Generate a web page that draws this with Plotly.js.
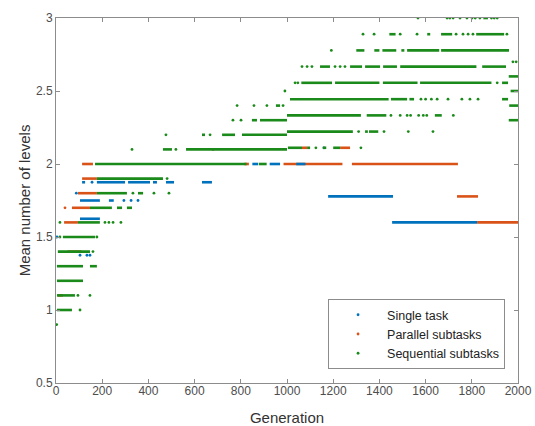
<!DOCTYPE html>
<html>
<head>
<meta charset="utf-8">
<script src="https://cdn.plot.ly/plotly-3.0.1.min.js"></script>
<style>html,body{margin:0;padding:0;background:#fff;}#chart{width:535px;height:426px;}</style>
</head>
<body>
<div id="chart"></div>
<script>
// ---- Data ----
const seriesNames = ["Single task", "Parallel subtasks", "Sequential subtasks"];

// Sequential subtasks: horizontal runs (level, first generation, last generation)
const seqSegY  = [1.0, 1.1, 1.2, 1.3, 1.3, 1.4, 1.5, 1.6, 1.7, 1.7, 1.7, 1.8, 1.8, 1.9, 2.0, 2.0,
                  2.1, 2.1, 2.2, 2.2, 2.2, 2.3, 2.3, 2.4,
                  2.111, 2.111, 2.111, 2.111,
                  2.222, 2.222, 2.222,
                  2.333, 2.333, 2.333,
                  2.444, 2.444, 2.444, 2.444,
                  2.556, 2.556, 2.556, 2.556, 2.556,
                  2.667, 2.667, 2.667, 2.667, 2.667, 2.667,
                  2.778, 2.778, 2.778, 2.778, 2.778, 2.778,
                  2.889, 2.889, 2.889, 2.889,
                  3.0,
                  2.6, 2.5, 2.4, 2.3];
const seqSegX0 = [4, 4, 4, 4, 147, 8, 30, 95, 147, 264, 307, 177, 355, 177, 169, 878,
                  463, 563, 632, 719, 805, 848, 883, 952,
                  1004, 1087, 1155, 1200,
                  1000, 1338, 1355,
                  1000, 1345, 1640,
                  1013, 1450, 1530, 1931,
                  1062, 1208, 1415, 1576, 1931,
                  1143, 1273, 1338, 1416, 1490, 1845,
                  1300, 1378, 1413, 1495, 1520, 1667,
                  1443, 1607, 1667, 1819,
                  1850,
                  1960, 1968, 1962, 1960];
const seqSegX1 = [69, 82, 117, 117, 177, 147, 169, 190, 242, 286, 329, 307, 377, 463, 825, 912,
                  502, 1000, 645, 775, 1000, 870, 1000, 970,
                  1065, 1100, 1170, 1230,
                  1285, 1350, 1395,
                  1320, 1430, 1670,
                  1440, 1520, 1550, 1957,
                  1195, 1400, 1565, 1885, 1957,
                  1186, 1325, 1403, 1476, 1820, 1948,
                  1335, 1400, 1473, 1508, 1659, 1961,
                  1470, 1620, 1715, 1940,
                  1870,
                  2000, 2000, 2000, 2000];
// Sequential subtasks: isolated points
const seqDotX = [3, 104, 95, 147, 160, 177, 17, 17, 212, 229, 247, 281, 333, 424, 489, 481,
                 329, 519, 476, 667, 766, 801, 784, 857, 913, 983, 991,
                 1125, 1320, 1310, 1420, 1525, 1632,
                 1450, 1490, 1520, 1535, 1570, 1590, 1605, 1720,
                 1580, 1600, 1625, 1650, 1697, 1757, 1792, 1827,
                 1035, 1047, 1910,
                 1065, 1087, 1108, 1208, 1230, 1251,
                 1192,
                 1329, 1377, 1490, 1563, 1732, 1762, 1784, 1805, 1952,
                 1567, 1693, 1705, 1719, 1749, 1779, 1801, 1815, 1835, 1885, 1897, 1910,
                 1978, 1992];
const seqDotY = [0.9, 1.0, 1.1, 1.1, 1.4, 1.5, 1.5, 1.6, 1.6, 1.6, 1.6, 1.6, 1.8, 1.8, 1.8, 1.9,
                 2.1, 2.1, 2.2, 2.2, 2.3, 2.3, 2.4, 2.4, 2.4, 2.4, 2.5,
                 2.111, 2.111, 2.222, 2.222, 2.222, 2.222,
                 2.333, 2.333, 2.333, 2.333, 2.333, 2.333, 2.333, 2.333,
                 2.444, 2.444, 2.444, 2.444, 2.444, 2.444, 2.444, 2.444,
                 2.556, 2.556, 2.556,
                 2.667, 2.667, 2.667, 2.667, 2.667, 2.667,
                 2.778,
                 2.889, 2.889, 2.889, 2.889, 2.889, 2.889, 2.889, 2.889, 2.889,
                 3.0, 3.0, 3.0, 3.0, 3.0, 3.0, 3.0, 3.0, 3.0, 3.0, 3.0, 3.0,
                 2.7, 2.7];

// Single task
const sinSegY  = [1.625, 1.75, 1.75, 1.875, 1.875, 1.875, 1.875, 1.875, 1.875, 2.0, 2.0, 2.0, 1.778, 1.6];
const sinSegX0 = [104, 104, 229, 113, 177, 312, 420, 476, 632, 850, 925, 1040, 1178, 1455];
const sinSegX1 = [190, 190, 250, 126, 299, 407, 437, 511, 675, 875, 970, 1080, 1459, 1823];
const sinDotX = [4, 104, 134, 147, 294, 325, 355, 88, 156, 1160];
const sinDotY = [1.5, 1.375, 1.375, 1.375, 1.75, 1.75, 1.75, 1.8, 1.875, 2.111];

// Parallel subtasks
const parSegY  = [1.1, 1.4, 1.6, 1.7, 1.8, 1.9, 2.0, 2.0, 2.0, 2.0, 2.111, 2.111, 1.778, 1.6];
const parSegX0 = [8, 50, 35, 69, 95, 113, 113, 815, 985, 1281, 1065, 1230, 1736, 1823];
const parSegX1 = [30, 110, 95, 147, 177, 177, 160, 835, 1240, 1740, 1087, 1273, 1827, 2000];
const parDotX = [39, 680];
const parDotY = [1.7, 2.1];

const colors = ["#0072BD", "#D95319", "#1A8A1A"];

// ---- Build traces ----
function segTrace(ys, x0, x1, color) {
  const x = [], y = [];
  for (let i = 0; i < ys.length; i++) {
    x.push(x0[i], x1[i], null);
    y.push(ys[i], ys[i], null);
  }
  return {x: x, y: y, type: "scatter", mode: "lines", showlegend: false, hoverinfo: "skip",
          line: {color: color, width: 2.6}};
}
function dotTrace(xs, ys, color, name, rank) {
  return {x: xs, y: ys, type: "scatter", mode: "markers", name: name, legendrank: rank,
          marker: {color: color, size: 2.8, line: {width: 0}}};
}

const data = [
  segTrace(parSegY, parSegX0, parSegX1, colors[1]),
  dotTrace(parDotX, parDotY, colors[1], seriesNames[1], 2),
  segTrace(sinSegY, sinSegX0, sinSegX1, colors[0]),
  dotTrace(sinDotX, sinDotY, colors[0], seriesNames[0], 1),
  segTrace(seqSegY, seqSegX0, seqSegX1, colors[2]),
  dotTrace(seqDotX, seqDotY, colors[2], seriesNames[2], 3)
];

const FONT = "Liberation Sans, Arial, sans-serif";
const axisCommon = {
  showgrid: false, zeroline: false, showline: true, linecolor: "#8c8c8c", linewidth: 1,
  mirror: "allticks", ticks: "inside", ticklen: 4, tickcolor: "#8c8c8c", tickwidth: 1,
  automargin: false,
  tickfont: {family: FONT, size: 12, color: "#4d4d4d"}
};

const layout = {
  width: 535, height: 426,
  margin: {l: 56, r: 17, t: 18, b: 43, pad: 0},
  paper_bgcolor: "#fff", plot_bgcolor: "#fff",
  font: {family: FONT, color: "#333"},
  xaxis: Object.assign({}, axisCommon, {
    range: [0, 2000], dtick: 200, tick0: 0, ticklabelstandoff: -3,
    title: {text: "Generation", font: {size: 15, color: "#333"}, standoff: 16}
  }),
  yaxis: Object.assign({}, axisCommon, {
    range: [0.5, 3], dtick: 0.5, tick0: 0.5,
    title: {text: "Mean number of levels", font: {size: 15, color: "#333"}, standoff: 1}
  }),
  legend: {
    x: 0.972, y: 0.038, xanchor: "right", yanchor: "bottom",
    bgcolor: "#fff", bordercolor: "#8c8c8c", borderwidth: 1,
    font: {family: FONT, size: 12.5, color: "#222"}, itemwidth: 48, traceorder: "normal"
  },
  showlegend: true
};

Plotly.newPlot("chart", data, layout, {staticPlot: true, displayModeBar: false});
</script>
</body>
</html>
